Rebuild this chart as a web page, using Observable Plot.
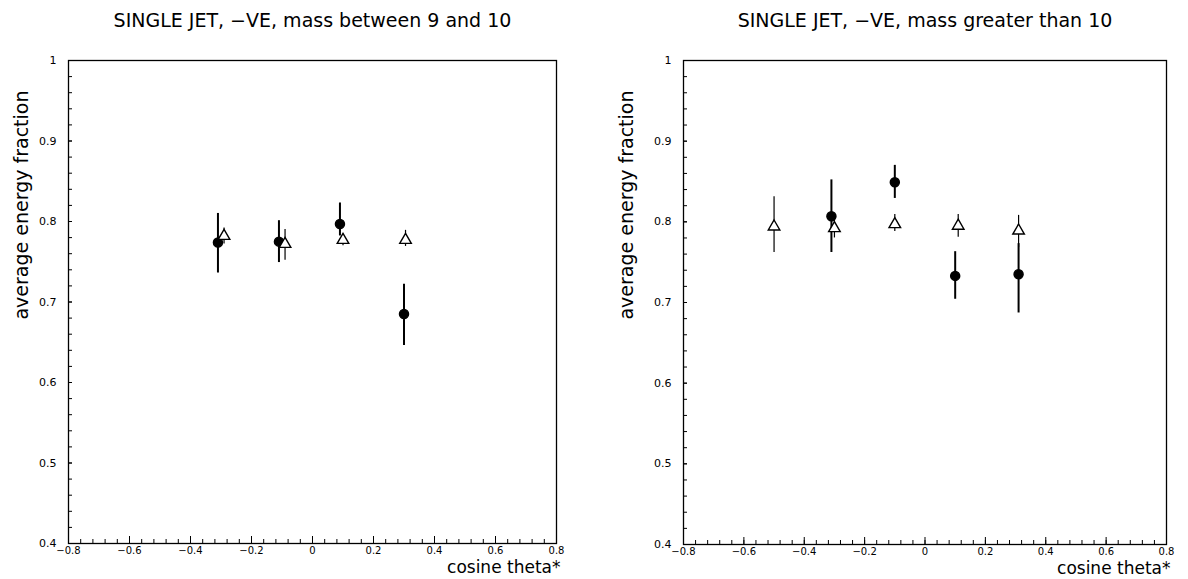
<!DOCTYPE html>
<html><head><meta charset="utf-8">
<script src="https://cdn.jsdelivr.net/npm/d3@7"></script>
<script src="https://cdn.jsdelivr.net/npm/@observablehq/plot@0.6"></script>
<style>
body{margin:0;background:#fff;}
#wrap{display:flex;width:1188px;height:579px;overflow:hidden;}
</style></head><body><div id="wrap"></div>
<script>
const titles = ["SINGLE JET, \u2212VE, mass between 9 and 10", "SINGLE JET, \u2212VE, mass greater than 10"];
const yLabel = "average energy fraction";
const xLabel = "cosine theta*";
const xTicks = [-0.8, -0.6, -0.4, -0.2, 0, 0.2, 0.4, 0.6, 0.8];
const xTickLabels = ["\u22120.8", "\u22120.6", "\u22120.4", "\u22120.2", "0", "0.2", "0.4", "0.6", "0.8"];
const yTicks = [0.4, 0.5, 0.6, 0.7, 0.8, 0.9, 1];
const yTickLabels = ["0.4", "0.5", "0.6", "0.7", "0.8", "0.9", "1"];

// Panel 1: mass between 9 and 10
const p1CircleX  = [-0.31, -0.11, 0.09, 0.30];
const p1CircleY  = [0.774, 0.775, 0.797, 0.685];
const p1CircleLo = [0.736, 0.749, 0.782, 0.646];
const p1CircleHi = [0.810, 0.801, 0.823, 0.722];
const p1TriX  = [-0.29, -0.09, 0.10, 0.305];
const p1TriY  = [0.782, 0.772, 0.777, 0.777];
const p1TriLo = [0.772, 0.752, 0.770, 0.769];
const p1TriHi = [0.792, 0.790, 0.784, 0.789];

// Panel 2: mass greater than 10
const p2CircleX  = [-0.31, -0.10, 0.10, 0.31];
const p2CircleY  = [0.807, 0.849, 0.733, 0.735];
const p2CircleLo = [0.762, 0.829, 0.704, 0.687];
const p2CircleHi = [0.852, 0.870, 0.763, 0.773];
const p2TriX  = [-0.50, -0.30, -0.10, 0.11, 0.31];
const p2TriY  = [0.794, 0.792, 0.797, 0.795, 0.789];
const p2TriLo = [0.762, 0.780, 0.788, 0.781, 0.768];
const p2TriHi = [0.831, 0.804, 0.809, 0.809, 0.808];

const xMinor = d3.range(-0.8, 0.8001, 0.04);
const yMinor = d3.range(0.4, 1.0001, 0.02);
const xLabMap = new Map(xTicks.map((t, i) => [t, xTickLabels[i]]));
const yLabMap = new Map(yTicks.map((t, i) => [t, yTickLabels[i]]));

function rows(xs, ys, lo, hi) {
  return xs.map((x, i) => ({x, y: ys[i], lo: lo[i], hi: hi[i]}));
}

function panel(o) {
  const circles = rows(o.cx, o.cy, o.clo, o.chi);
  const tris = rows(o.tx, o.ty, o.tlo, o.thi);
  return Plot.plot({
    width: 594, height: 579,
    marginLeft: o.ml, marginRight: o.mr, marginTop: 60, marginBottom: o.mb,
    x: {domain: [-0.8, 0.8]},
    y: {domain: [0.4, 1]},
    style: {fontFamily: "DejaVu Sans", background: "white", color: "black", fontSize: "11px"},
    marks: [
      Plot.axisX({ticks: xMinor, tickSize: -4, tickFormat: () => "", label: null}),
      Plot.axisX({ticks: xTicks, tickSize: -7, tickPadding: 10, tickFormat: d => xLabMap.get(d), fontSize: 10, label: null}),
      Plot.axisY({ticks: yMinor, tickSize: -4, tickFormat: () => "", label: null}),
      Plot.axisY({ticks: yTicks, tickSize: -4, tickPadding: 16, tickFormat: d => yLabMap.get(d), fontSize: 11, label: null}),
      Plot.frame({stroke: "black", strokeWidth: 1.3}),
      Plot.ruleX(tris, {x: "x", y1: "lo", y2: "hi", stroke: "black", strokeWidth: 1.2}),
      Plot.ruleX(circles, {x: "x", y1: "lo", y2: "hi", stroke: "black", strokeWidth: 2}),
      Plot.dot(circles, {x: "x", y: "y", r: 4.5, fill: "black", stroke: "black"}),
      Plot.dot(tris, {x: "x", y: "y", symbol: "triangle", r: 4.3, fill: "white", stroke: "black", strokeWidth: 1.4}),
      Plot.text([o.title], {frameAnchor: "top", dy: -47, fontSize: 19, letterSpacing: 0.8, text: d => d, fill: "black"}),
      Plot.text([xLabel], {frameAnchor: "bottom-right", dy: 29, dx: 4, textAnchor: "end", fontSize: 17, letterSpacing: 0.8, text: d => d, fill: "black"}),
      Plot.text([yLabel], {frameAnchor: "top-left", rotate: -90, textAnchor: "end", dx: -o.yl, dy: 30, fontSize: 19, letterSpacing: 0.7, text: d => d, fill: "black"})
    ]
  });
}

const wrap = document.getElementById("wrap");
wrap.appendChild(panel({title: titles[0], ml: 68, mr: 38, mb: 36, yl: 54,
  cx: p1CircleX, cy: p1CircleY, clo: p1CircleLo, chi: p1CircleHi,
  tx: p1TriX, ty: p1TriY, tlo: p1TriLo, thi: p1TriHi}));
wrap.appendChild(panel({title: titles[1], ml: 89, mr: 22, mb: 35, yl: 64,
  cx: p2CircleX, cy: p2CircleY, clo: p2CircleLo, chi: p2CircleHi,
  tx: p2TriX, ty: p2TriY, tlo: p2TriLo, thi: p2TriHi}));
</script></body></html>
